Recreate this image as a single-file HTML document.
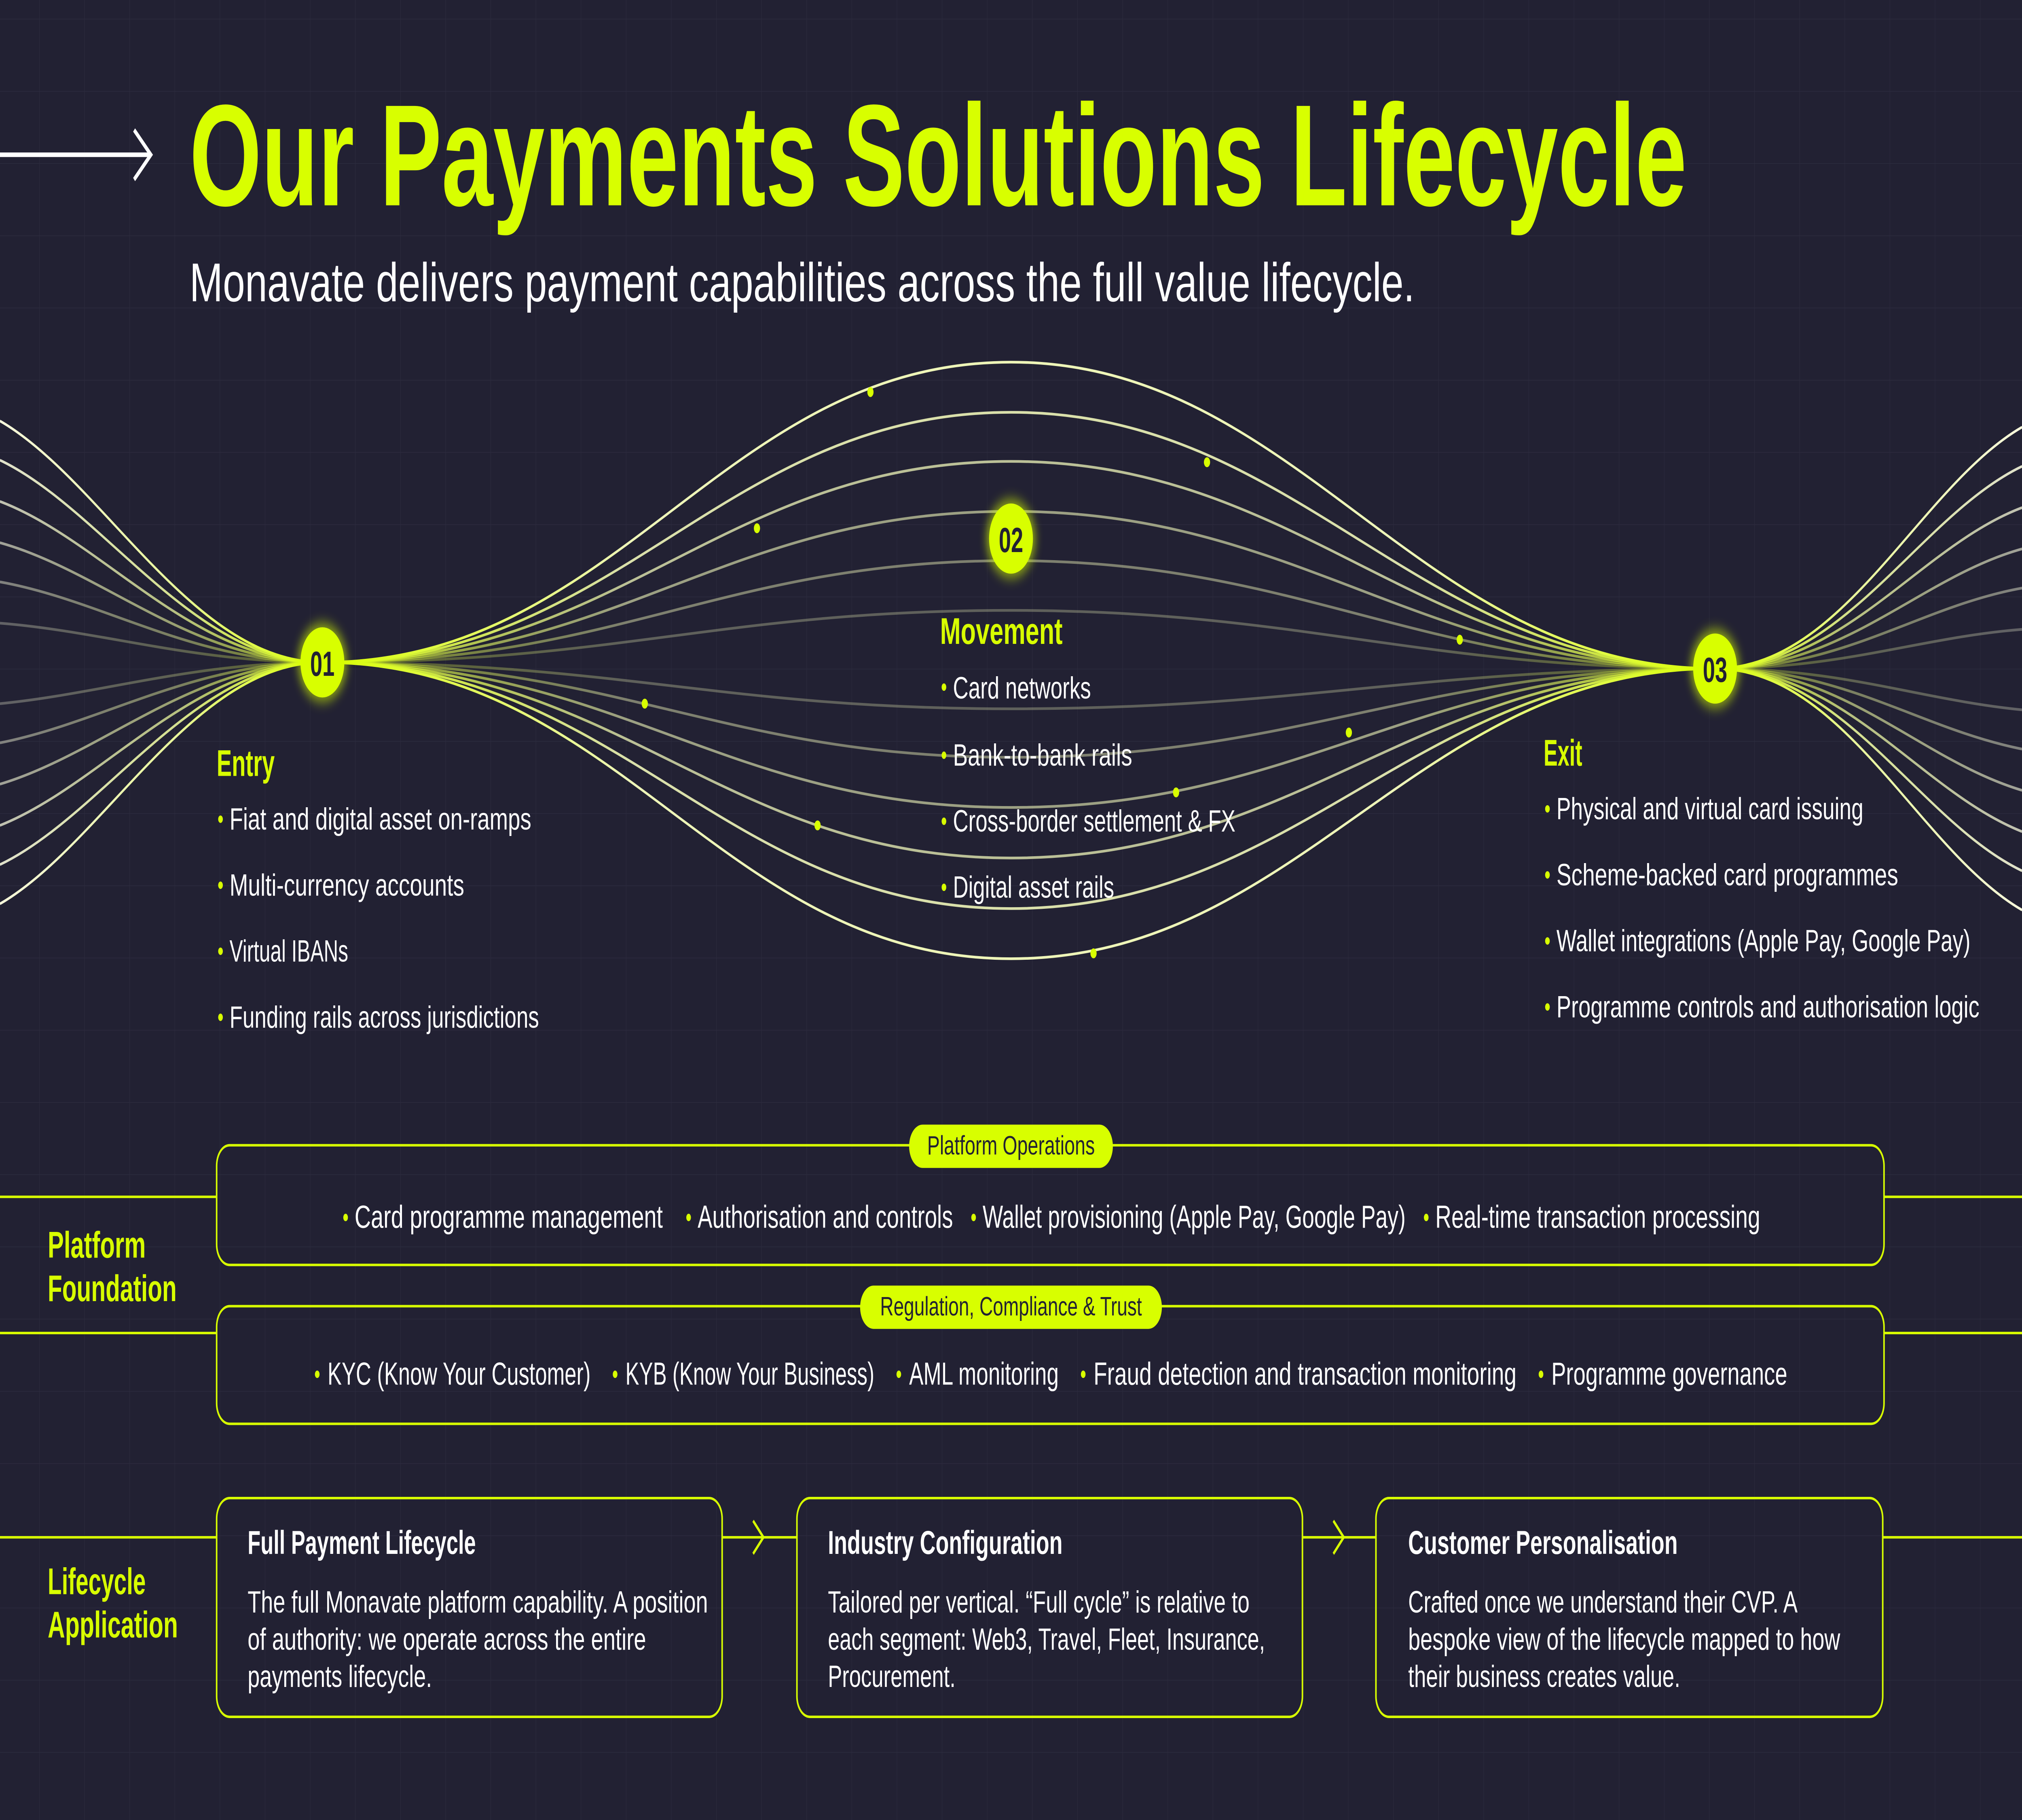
<!DOCTYPE html>
<html><head><meta charset="utf-8"><style>
html,body{margin:0;padding:0;background:#222133;overflow:hidden;width:100%;height:100%;}
svg{display:block;position:fixed;left:0;top:0;width:100vw;height:100vh}
text{font-family:"Liberation Sans",sans-serif;}
</style></head><body>
<svg viewBox="0 0 1568 882" preserveAspectRatio="none" xmlns="http://www.w3.org/2000/svg">
<defs>
<pattern id="grid" x="30.4" y="9.1" width="35" height="35" patternUnits="userSpaceOnUse">
<path d="M0 0H35M0 0V35" stroke="#2c2b3e" stroke-width="0.6" fill="none"/>
</pattern>
<linearGradient id="gl" gradientUnits="userSpaceOnUse" x1="250" y1="0" x2="0" y2="0">
<stop offset="0" stop-color="#d8ff00"/><stop offset="0.45" stop-color="#e8f59a"/><stop offset="1" stop-color="#f6f8dc"/></linearGradient>
<linearGradient id="gr" gradientUnits="userSpaceOnUse" x1="1330" y1="0" x2="1568" y2="0">
<stop offset="0" stop-color="#d8ff00"/><stop offset="0.45" stop-color="#e8f59a"/><stop offset="1" stop-color="#f6f8dc"/></linearGradient>
<linearGradient id="gm" gradientUnits="userSpaceOnUse" x1="250" y1="0" x2="1330" y2="0">
<stop offset="0" stop-color="#d8ff00"/><stop offset="0.22" stop-color="#eef5b8"/><stop offset="0.78" stop-color="#eef5b8"/><stop offset="1" stop-color="#d8ff00"/></linearGradient>
<filter id="glow" x="-1" y="-1" width="3" height="3"><feGaussianBlur stdDeviation="3"/></filter>
</defs>
<rect width="1568" height="882" fill="#222133"/>
<rect width="1568" height="882" fill="url(#grid)"/>

<path d="M0 75H117M104 63L117 75L104 87" stroke="#fff" stroke-width="2.2" fill="none"/>
<text x="147" y="99.5" font-size="70" font-weight="bold" fill="#d8ff00" textLength="1161" lengthAdjust="spacingAndGlyphs">Our Payments Solutions Lifecycle</text>
<text x="147" y="146" font-size="26.5" fill="#fff" textLength="950" lengthAdjust="spacingAndGlyphs">Monavate delivers payment capabilities across the full value lifecycle.</text>

<g fill="none" stroke="url(#gl)" stroke-width="1.3">
<path d="M250 321C150 321 80 233 0 204" />
<path d="M250 321C150 321 80 247 0 223" opacity="0.9"/>
<path d="M250 321C150 321 80 262 0 243" opacity="0.75"/>
<path d="M250 321C150 321 80 277 0 263" opacity="0.6"/>
<path d="M250 321C150 321 80 291 0 282" opacity="0.45"/>
<path d="M250 321C150 321 80 306 0 302" opacity="0.3"/>
<path d="M250 321C150 321 80 336 0 341" opacity="0.3"/>
<path d="M250 321C150 321 80 350 0 360" opacity="0.45"/>
<path d="M250 321C150 321 80 365 0 380" opacity="0.6"/>
<path d="M250 321C150 321 80 380 0 400" opacity="0.75"/>
<path d="M250 321C150 321 80 395 0 419" opacity="0.9"/>
<path d="M250 321C150 321 80 409 0 438"/>
</g>
<g fill="none" stroke="url(#gr)" stroke-width="1.3">
<path d="M1330 324C1430 324 1488 236 1568 207"/>
<path d="M1330 324C1430 324 1488 250 1568 226" opacity="0.9"/>
<path d="M1330 324C1430 324 1488 265 1568 246" opacity="0.75"/>
<path d="M1330 324C1430 324 1488 280 1568 266" opacity="0.6"/>
<path d="M1330 324C1430 324 1488 294 1568 285" opacity="0.45"/>
<path d="M1330 324C1430 324 1488 309 1568 305" opacity="0.3"/>
<path d="M1330 324C1430 324 1488 339 1568 344" opacity="0.3"/>
<path d="M1330 324C1430 324 1488 353 1568 363" opacity="0.45"/>
<path d="M1330 324C1430 324 1488 368 1568 383" opacity="0.6"/>
<path d="M1330 324C1430 324 1488 383 1568 403" opacity="0.75"/>
<path d="M1330 324C1430 324 1488 398 1568 422" opacity="0.9"/>
<path d="M1330 324C1430 324 1488 412 1568 441"/>
</g>
<g fill="none" stroke="url(#gm)" stroke-width="1.3">
<path d="M250 321C480 321 560 175.5 784 175.5S1100 324 1330 324"/>
<path d="M250 321C480 321 560 199.8 784 199.8S1100 324 1330 324" opacity="0.9"/>
<path d="M250 321C480 321 560 223.6 784 223.6S1100 324 1330 324" opacity="0.75"/>
<path d="M250 321C480 321 560 247.8 784 247.8S1100 324 1330 324" opacity="0.6"/>
<path d="M250 321C480 321 560 271.7 784 271.7S1100 324 1330 324" opacity="0.45"/>
<path d="M250 321C480 321 560 295.8 784 295.8S1100 324 1330 324" opacity="0.3"/>
<path d="M250 321C480 321 560 343.5 784 343.5S1100 324 1330 324" opacity="0.3"/>
<path d="M250 321C480 321 560 367 784 367S1100 324 1330 324" opacity="0.45"/>
<path d="M250 321C480 321 560 391.3 784 391.3S1100 324 1330 324" opacity="0.6"/>
<path d="M250 321C480 321 560 415.8 784 415.8S1100 324 1330 324" opacity="0.75"/>
<path d="M250 321C480 321 560 440.3 784 440.3S1100 324 1330 324" opacity="0.9"/>
<path d="M250 321C480 321 560 464.6 784 464.6S1100 324 1330 324"/>
</g>
<g fill="#d8ff00">
<circle cx="675" cy="190" r="2.4"/><circle cx="936" cy="224" r="2.4"/><circle cx="587" cy="256" r="2.4"/>
<circle cx="1132" cy="310" r="2.4"/><circle cx="500" cy="341" r="2.4"/><circle cx="634" cy="400" r="2.4"/>
<circle cx="912" cy="384" r="2.4"/><circle cx="1046" cy="355" r="2.4"/><circle cx="848" cy="462" r="2.4"/>
</g>
<g>
<circle cx="250" cy="321" r="19" fill="#d8ff00" opacity="0.6" filter="url(#glow)"/>
<circle cx="250" cy="321" r="17" fill="#d8ff00"/>
<text x="250" y="327.5" font-size="17" font-weight="bold" fill="#222133" text-anchor="middle">01</text>
<circle cx="784" cy="261" r="19" fill="#d8ff00" opacity="0.6" filter="url(#glow)"/>
<circle cx="784" cy="261" r="17" fill="#d8ff00"/>
<text x="784" y="267.5" font-size="17" font-weight="bold" fill="#222133" text-anchor="middle">02</text>
<circle cx="1330" cy="324" r="19" fill="#d8ff00" opacity="0.6" filter="url(#glow)"/>
<circle cx="1330" cy="324" r="17" fill="#d8ff00"/>
<text x="1330" y="330.5" font-size="17" font-weight="bold" fill="#222133" text-anchor="middle">03</text>
</g>

<text x="168" y="376" font-size="18" font-weight="bold" fill="#d8ff00" textLength="45" lengthAdjust="spacingAndGlyphs">Entry</text>
<g fill="#d8ff00"><circle cx="171" cy="397" r="1.8"/><circle cx="171" cy="429" r="1.8"/><circle cx="171" cy="461" r="1.8"/><circle cx="171" cy="493" r="1.8"/></g>
<g font-size="15" fill="#fff">
<text x="178" y="402" textLength="234" lengthAdjust="spacingAndGlyphs">Fiat and digital asset on-ramps</text>
<text x="178" y="434" textLength="182" lengthAdjust="spacingAndGlyphs">Multi-currency accounts</text>
<text x="178" y="466" textLength="92" lengthAdjust="spacingAndGlyphs">Virtual IBANs</text>
<text x="178" y="498" textLength="240" lengthAdjust="spacingAndGlyphs">Funding rails across jurisdictions</text>
</g>
<text x="729" y="312" font-size="18" font-weight="bold" fill="#d8ff00" textLength="95" lengthAdjust="spacingAndGlyphs">Movement</text>
<g fill="#d8ff00"><circle cx="732" cy="333" r="1.8"/><circle cx="732" cy="366" r="1.8"/><circle cx="732" cy="398" r="1.8"/><circle cx="732" cy="430" r="1.8"/></g>
<g font-size="15" fill="#fff">
<text x="739" y="338.5" textLength="107" lengthAdjust="spacingAndGlyphs">Card networks</text>
<text x="739" y="371" textLength="139" lengthAdjust="spacingAndGlyphs">Bank-to-bank rails</text>
<text x="739" y="403" textLength="219" lengthAdjust="spacingAndGlyphs">Cross-border settlement &amp; FX</text>
<text x="739" y="435" textLength="125" lengthAdjust="spacingAndGlyphs">Digital asset rails</text>
</g>
<text x="1197" y="371" font-size="18" font-weight="bold" fill="#d8ff00" textLength="30" lengthAdjust="spacingAndGlyphs">Exit</text>
<g fill="#d8ff00"><circle cx="1200" cy="392" r="1.8"/><circle cx="1200" cy="424" r="1.8"/><circle cx="1200" cy="456" r="1.8"/><circle cx="1200" cy="488" r="1.8"/></g>
<g font-size="15" fill="#fff">
<text x="1207" y="397" textLength="238" lengthAdjust="spacingAndGlyphs">Physical and virtual card issuing</text>
<text x="1207" y="429" textLength="265" lengthAdjust="spacingAndGlyphs">Scheme-backed card programmes</text>
<text x="1207" y="461" textLength="321" lengthAdjust="spacingAndGlyphs">Wallet integrations (Apple Pay, Google Pay)</text>
<text x="1207" y="493" textLength="328" lengthAdjust="spacingAndGlyphs">Programme controls and authorisation logic</text>
</g>

<g stroke="#d8ff00" stroke-width="1.2" fill="none">
<path d="M0 580H168M1461 580H1568M0 646H168M1461 646H1568"/>
<rect x="168" y="555" width="1293" height="58" rx="10"/>
<rect x="168" y="633" width="1293" height="57" rx="10"/>
<path d="M0 745H168M560 745H618M1010 745H1067M1460 745H1568"/>
<path d="M584 737L592 745L584 753M1034 737L1042 745L1034 753" stroke-width="1.5"/>
<rect x="168" y="726" width="392" height="106" rx="10"/>
<rect x="618" y="726" width="392" height="106" rx="10"/>
<rect x="1067" y="726" width="393" height="106" rx="10"/>
</g>
<rect x="705" y="545" width="158" height="21" rx="10.5" fill="#d8ff00"/>
<text x="784" y="559.5" font-size="13" fill="#222133" text-anchor="middle" textLength="130" lengthAdjust="spacingAndGlyphs">Platform Operations</text>
<rect x="667" y="623" width="234" height="21" rx="10.5" fill="#d8ff00"/>
<text x="784" y="637.5" font-size="13" fill="#222133" text-anchor="middle" textLength="203" lengthAdjust="spacingAndGlyphs">Regulation, Compliance &amp; Trust</text>

<g fill="#d8ff00"><circle cx="268" cy="590" r="1.8"/><circle cx="534" cy="590" r="1.8"/><circle cx="755" cy="590" r="1.8"/><circle cx="1106" cy="590" r="1.8"/>
<circle cx="246" cy="666" r="1.8"/><circle cx="477" cy="666" r="1.8"/><circle cx="697" cy="666" r="1.8"/><circle cx="840" cy="666" r="1.8"/><circle cx="1195" cy="666" r="1.8"/></g>
<g font-size="15.5" fill="#fff">
<text x="275" y="595" textLength="239" lengthAdjust="spacingAndGlyphs">Card programme management</text>
<text x="541" y="595" textLength="198" lengthAdjust="spacingAndGlyphs">Authorisation and controls</text>
<text x="762" y="595" textLength="328" lengthAdjust="spacingAndGlyphs">Wallet provisioning (Apple Pay, Google Pay)</text>
<text x="1113" y="595" textLength="252" lengthAdjust="spacingAndGlyphs">Real-time transaction processing</text>
<text x="254" y="671" textLength="204" lengthAdjust="spacingAndGlyphs">KYC (Know Your Customer)</text>
<text x="485" y="671" textLength="193" lengthAdjust="spacingAndGlyphs">KYB (Know Your Business)</text>
<text x="705" y="671" textLength="116" lengthAdjust="spacingAndGlyphs">AML monitoring</text>
<text x="848" y="671" textLength="328" lengthAdjust="spacingAndGlyphs">Fraud detection and transaction monitoring</text>
<text x="1203" y="671" textLength="183" lengthAdjust="spacingAndGlyphs">Programme governance</text>
</g>

<g font-size="18" font-weight="bold" fill="#d8ff00">
<text x="37" y="609.5" textLength="76" lengthAdjust="spacingAndGlyphs">Platform</text>
<text x="37" y="630.5" textLength="100" lengthAdjust="spacingAndGlyphs">Foundation</text>
<text x="37" y="772.5" textLength="76" lengthAdjust="spacingAndGlyphs">Lifecycle</text>
<text x="37" y="793.5" textLength="101" lengthAdjust="spacingAndGlyphs">Application</text>
</g>

<g font-size="16" font-weight="bold" fill="#fff">
<text x="192" y="753" textLength="177" lengthAdjust="spacingAndGlyphs">Full Payment Lifecycle</text>
<text x="642" y="753" textLength="182" lengthAdjust="spacingAndGlyphs">Industry Configuration</text>
<text x="1092" y="753" textLength="209" lengthAdjust="spacingAndGlyphs">Customer Personalisation</text>
</g>
<g font-size="15" fill="#fff">
<text x="192" y="781.5" textLength="357" lengthAdjust="spacingAndGlyphs">The full Monavate platform capability. A position</text>
<text x="192" y="799.5" textLength="309" lengthAdjust="spacingAndGlyphs">of authority:  we operate across the entire</text>
<text x="192" y="817.5" textLength="143" lengthAdjust="spacingAndGlyphs">payments lifecycle.</text>
<text x="642" y="781.5" textLength="327" lengthAdjust="spacingAndGlyphs">Tailored per vertical. “Full cycle” is relative to</text>
<text x="642" y="799.5" textLength="339" lengthAdjust="spacingAndGlyphs">each segment:  Web3, Travel, Fleet, Insurance,</text>
<text x="642" y="817.5" textLength="99" lengthAdjust="spacingAndGlyphs">Procurement.</text>
<text x="1092" y="781.5" textLength="302" lengthAdjust="spacingAndGlyphs">Crafted once we understand their CVP. A</text>
<text x="1092" y="799.5" textLength="335" lengthAdjust="spacingAndGlyphs">bespoke view of the lifecycle mapped to how</text>
<text x="1092" y="817.5" textLength="211" lengthAdjust="spacingAndGlyphs">their business creates value.</text>
</g>
</svg>
</body></html>
